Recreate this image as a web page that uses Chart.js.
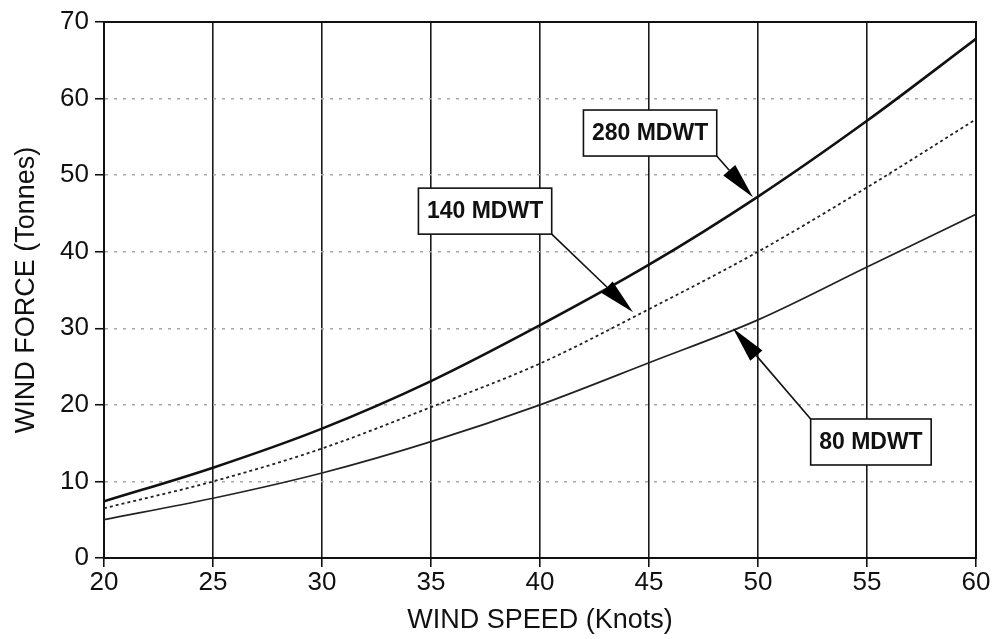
<!DOCTYPE html>
<html>
<head>
<meta charset="utf-8">
<script src="https://cdn.jsdelivr.net/npm/chart.js@4/dist/chart.umd.min.js"></script>
<style>
  html, body { margin: 0; padding: 0; background: #fff; }
  #wrap { width: 993px; height: 639px; }
</style>
</head>
<body>
<div id="wrap"><canvas id="chart"></canvas></div>
<script>
// wind speed (knots)
const speeds = [20, 25, 30, 35, 40, 45, 50, 55, 60];
// wind force (tonnes) per ship size
const force280 = [7.4, 11.8, 16.9, 23.1, 30.4, 38.3, 47.2, 57.1, 67.8];
const force140 = [6.5, 10.0, 14.3, 19.7, 25.4, 32.5, 40.0, 48.4, 57.3];
const force80 = [5.0, 7.8, 11.1, 15.2, 20.0, 25.5, 31.1, 38.0, 44.9];

const seriesNames = ['280 MDWT', '140 MDWT', '80 MDWT'];

const toPoints = (ys) => speeds.map((x, i) => ({ x: x, y: ys[i] }));

// callout boxes: box centre and arrow tip in data units
const callouts = [
  { text: '280 MDWT', bx: 45.05, by: 55.5, tx: 49.77, ty: 47.1, from: 'br' },
  { text: '140 MDWT', bx: 37.48, by: 45.3, tx: 44.27, ty: 32.1, from: 'br' },
  { text: '80 MDWT', bx: 55.18, by: 15.15, tx: 48.85, ty: 30.0, from: 'tl' },
];

const frame = {
  id: 'frame',
  beforeDatasetsDraw(chart) {
    const { ctx, chartArea: a } = chart;
    ctx.save();
    ctx.strokeStyle = '#111';
    ctx.lineWidth = 2;
    ctx.strokeRect(a.left, a.top, a.right - a.left, a.bottom - a.top);
    ctx.restore();
  },
};

const calloutPlugin = {
  id: 'callouts',
  afterDatasetsDraw(chart) {
    const { ctx, scales } = chart;
    const xs = scales.x, ys = scales.y;
    ctx.save();
    ctx.font = 'bold 23px "Liberation Sans", Arial, sans-serif';
    callouts.forEach(c => {
      const cx = xs.getPixelForValue(c.bx);
      const cy = ys.getPixelForValue(c.by);
      const w = ctx.measureText(c.text).width + 17;
      const h = 46;
      const left = cx - w / 2, top = cy - h / 2;
      const sx = c.from === 'br' ? left + w : left;
      const sy = c.from === 'br' ? top + h : top;
      const ex = xs.getPixelForValue(c.tx);
      const ey = ys.getPixelForValue(c.ty);

      // arrow shaft
      const ang = Math.atan2(ey - sy, ex - sx);
      const headLen = 36, headW = 8;
      const bxp = ex - headLen * Math.cos(ang);
      const byp = ey - headLen * Math.sin(ang);
      ctx.strokeStyle = '#111';
      ctx.lineWidth = 1.6;
      ctx.beginPath();
      ctx.moveTo(sx, sy);
      ctx.lineTo(bxp, byp);
      ctx.stroke();
      // arrow head
      ctx.fillStyle = '#000';
      ctx.beginPath();
      ctx.moveTo(ex, ey);
      ctx.lineTo(bxp + headW * Math.sin(ang), byp - headW * Math.cos(ang));
      ctx.lineTo(bxp - headW * Math.sin(ang), byp + headW * Math.cos(ang));
      ctx.closePath();
      ctx.fill();

      // box
      ctx.fillStyle = '#fff';
      ctx.fillRect(left, top, w, h);
      ctx.lineWidth = 1.6;
      ctx.strokeRect(left, top, w, h);
      ctx.fillStyle = '#111';
      ctx.textAlign = 'center';
      ctx.textBaseline = 'middle';
      ctx.fillText(c.text, cx, cy + 1);
    });
    ctx.restore();
  },
};

const tickFont = { family: '"Liberation Sans", Arial, sans-serif', size: 26 };
const titleFont = { family: '"Liberation Sans", Arial, sans-serif', size: 27 };

new Chart(document.getElementById('chart'), {
  type: 'line',
  data: {
    datasets: [
      {
        label: seriesNames[0],
        data: toPoints(force280),
        borderColor: '#111',
        borderWidth: 2.6,
      },
      {
        label: seriesNames[1],
        data: toPoints(force140),
        borderColor: '#222',
        borderWidth: 1.8,
        borderDash: [3, 3],
      },
      {
        label: seriesNames[2],
        data: toPoints(force80),
        borderColor: '#222',
        borderWidth: 1.7,
      },
    ],
  },
  options: {
    responsive: true,
    maintainAspectRatio: false,
    animation: false,
    layout: { padding: { top: 22, right: 17, left: 0, bottom: 0 } },
    elements: {
      point: { radius: 0 },
      line: { tension: 0.4, cubicInterpolationMode: 'monotone' },
    },
    plugins: {
      legend: { display: false },
      tooltip: { enabled: false },
    },
    scales: {
      x: {
        type: 'linear',
        min: 20,
        max: 60,
        ticks: { stepSize: 5, color: '#111', font: tickFont, padding: 0, maxRotation: 0 },
        grid: { color: '#1a1a1a', lineWidth: 1.6, tickLength: 9, tickColor: '#111', tickWidth: 1.6 },
        border: { color: '#111', width: 2 },
        title: {
          display: true,
          text: 'WIND SPEED (Knots)',
          color: '#111',
          font: titleFont,
          padding: { top: 0, bottom: 2 },
        },
        afterFit(scale) { scale.height = 81; },
      },
      y: {
        min: 0,
        max: 70,
        ticks: { stepSize: 10, color: '#111', font: tickFont, padding: 6 },
        grid: {
          color: (c) => (c.tick && (c.tick.value === 0 || c.tick.value === 70)) ? 'rgba(0,0,0,0)' : '#a8a8a8',
          lineWidth: 1.5,
          tickLength: 9,
          tickColor: '#111',
          tickWidth: 1.6,
        },
        border: { color: '#111', width: 2, dash: [3, 6] },
        title: {
          display: true,
          text: 'WIND FORCE (Tonnes)',
          color: '#111',
          font: titleFont,
          padding: { top: 10, bottom: 4 },
        },
        afterFit(scale) { scale.width = 104; },
      },
    },
  },
  plugins: [frame, calloutPlugin],
});
</script>
</body>
</html>
